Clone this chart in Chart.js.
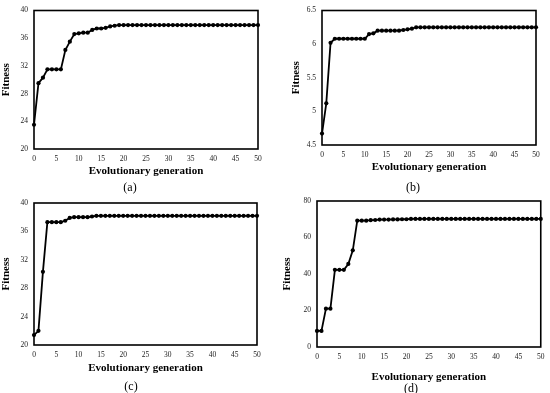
<!DOCTYPE html>
<html><head><meta charset="utf-8">
<script src="https://cdn.jsdelivr.net/npm/chart.js@4/dist/chart.umd.min.js"></script>
<style>
html,body{margin:0;padding:0;background:#fff;}
#wrap{position:relative;width:550px;height:393px;overflow:hidden;background:#fff;}
canvas{position:absolute;}
.sub{position:absolute;font:12px/12px "Liberation Serif",serif;color:#000;transform:translate(-50%,-50%);white-space:nowrap;}
</style></head>
<body><div id="wrap"></div>
<script>
// ---- data ----
const generations = [0,1,2,3,4,5,6,7,8,9,10,11,12,13,14,15,16,17,18,19,20,21,22,23,24,25,26,27,28,29,30,31,32,33,34,35,36,37,38,39,40,41,42,43,44,45,46,47,48,49,50];
const fitnessA = [23.5,29.5,30.3,31.5,31.5,31.5,31.5,34.3,35.5,36.6,36.7,36.8,36.8,37.2,37.4,37.4,37.5,37.7,37.8,37.9,37.9,37.9,37.9,37.9,37.9,37.9,37.9,37.9,37.9,37.9,37.9,37.9,37.9,37.9,37.9,37.9,37.9,37.9,37.9,37.9,37.9,37.9,37.9,37.9,37.9,37.9,37.9,37.9,37.9,37.9,37.9];
const fitnessB = [4.67,5.12,6.02,6.08,6.08,6.08,6.08,6.08,6.08,6.08,6.08,6.15,6.16,6.2,6.2,6.2,6.2,6.2,6.2,6.21,6.22,6.23,6.25,6.25,6.25,6.25,6.25,6.25,6.25,6.25,6.25,6.25,6.25,6.25,6.25,6.25,6.25,6.25,6.25,6.25,6.25,6.25,6.25,6.25,6.25,6.25,6.25,6.25,6.25,6.25,6.25];
const fitnessC = [21.4,22.0,30.3,37.3,37.3,37.3,37.3,37.5,37.9,38.0,38.0,38.0,38.0,38.1,38.2,38.2,38.2,38.2,38.2,38.2,38.2,38.2,38.2,38.2,38.2,38.2,38.2,38.2,38.2,38.2,38.2,38.2,38.2,38.2,38.2,38.2,38.2,38.2,38.2,38.2,38.2,38.2,38.2,38.2,38.2,38.2,38.2,38.2,38.2,38.2,38.2];
const fitnessD = [8.8,8.8,21,21,42.3,42.3,42.3,45.5,53,69.2,69.2,69.2,69.5,69.6,69.8,69.8,69.8,69.9,69.9,70,70,70.2,70.2,70.2,70.2,70.2,70.2,70.2,70.2,70.2,70.2,70.2,70.2,70.2,70.2,70.2,70.2,70.2,70.2,70.2,70.2,70.2,70.2,70.2,70.2,70.2,70.2,70.2,70.2,70.2,70.2];
const xTicks = [0,5,10,15,20,25,30,35,40,45,50];
const yTicksA = [20,24,28,32,36,40];
const yTicksB = [4.5,5,5.5,6,6.5];
const yTicksC = [20,24,28,32,36,40];
const yTicksD = [0,20,40,60,80];
const panelLabels = ['(a)','(b)','(c)','(d)'];
const xTitle = 'Evolutionary generation';
const yTitle = 'Fitness';

// ---- layout (positions only) ----
const panels = [
  {values:fitnessA, yt:yTicksA, cx:0,   cy:0,   w:275, h:200, pad:{left:0, top:6,   right:17, bottom:22.7}, yW:34, xH:28.3, sub:[130,187]},
  {values:fitnessB, yt:yTicksB, cx:275, cy:0,   w:275, h:200, pad:{left:15,top:9.5, right:14, bottom:26.4}, yW:32, xH:28.6, sub:[413,187]},
  {values:fitnessC, yt:yTicksC, cx:0,   cy:190, w:275, h:203, pad:{left:0, top:13,  right:18, bottom:18.7}, yW:34, xH:29.3, sub:[131,386]},
  {values:fitnessD, yt:yTicksD, cx:275, cy:190, w:275, h:203, pad:{left:6, top:11,  right:5,  bottom:9.4},  yW:36, xH:36.6, sub:[411,388]}
];

const frame = {
  id:'frame',
  afterDraw(chart){
    const a = chart.chartArea, c = chart.ctx;
    c.save(); c.strokeStyle='#000'; c.lineWidth=1.6;
    c.strokeRect(a.left, a.top, a.right-a.left, a.bottom-a.top);
    c.restore();
  }
};

const wrap = document.getElementById('wrap');
panels.forEach((p, i) => {
  const cv = document.createElement('canvas');
  cv.width = p.w; cv.height = p.h;
  cv.style.left = p.cx+'px'; cv.style.top = p.cy+'px';
  cv.style.width = p.w+'px'; cv.style.height = p.h+'px';
  wrap.appendChild(cv);
  const lab = document.createElement('div');
  lab.className='sub'; lab.textContent = panelLabels[i];
  lab.style.left = p.sub[0]+'px'; lab.style.top = p.sub[1]+'px';
  wrap.appendChild(lab);
  const tickFont = {family:'"Liberation Serif", serif', size:7.5};
  const titleFont = {family:'"Liberation Serif", serif', size:11, weight:'bold', lineHeight:1.2};
  new Chart(cv, {
    type:'line',
    data:{datasets:[{
      data: generations.map((g,k)=>({x:g, y:p.values[k]})),
      borderColor:'#000', backgroundColor:'#000', borderWidth:1.8,
      pointRadius:2.1, pointHoverRadius:2.1, pointBackgroundColor:'#000', pointBorderWidth:0,
      tension:0, clip:false
    }]},
    options:{
      responsive:false, animation:false, devicePixelRatio:1,
      layout:{padding:p.pad},
      plugins:{legend:{display:false}, tooltip:{enabled:false}},
      scales:{
        x:{type:'linear', min:0, max:50,
          afterBuildTicks(s){ s.ticks = xTicks.map(v=>({value:v})); },
          afterFit(s){ s.height = p.xH; },
          grid:{display:false, drawTicks:false}, border:{display:false},
          ticks:{font:tickFont, color:'#222', padding:5.5, maxRotation:0, autoSkip:false},
          title:{display:true, text:xTitle, font:titleFont, color:'#000', padding:{top:0,bottom:0}}
        },
        y:{type:'linear', min:p.yt[0], max:p.yt[p.yt.length-1],
          afterBuildTicks(s){ s.ticks = p.yt.map(v=>({value:v})); },
          afterFit(s){ s.width = p.yW; },
          grid:{display:false, drawTicks:false}, border:{display:false},
          ticks:{font:tickFont, color:'#222', padding:6, autoSkip:false, callback:v=>String(v)},
          title:{display:true, text:yTitle, font:titleFont, color:'#000', padding:{top:0,bottom:0}}
        }
      }
    },
    plugins:[frame]
  });
});
</script>
</body></html>
